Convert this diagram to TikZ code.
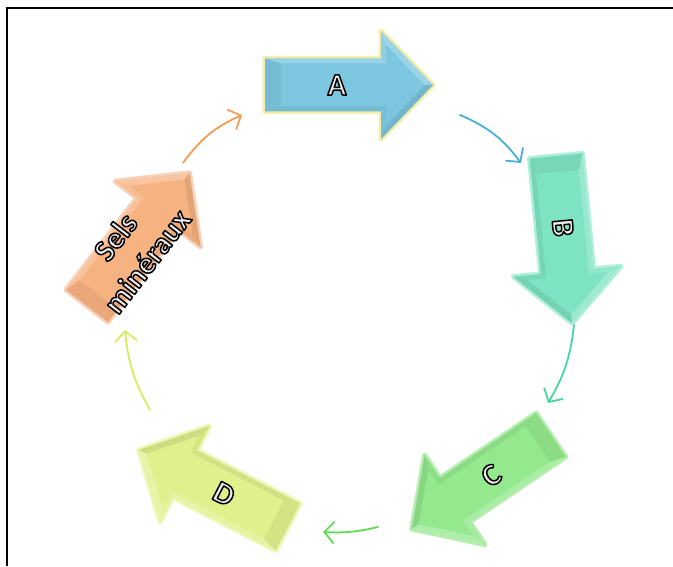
\documentclass[tikz,border=0pt]{standalone}
\usepackage{fontspec}
\setmainfont{Carlito}
\usetikzlibrary{arrows.meta}

\definecolor{fillA}{HTML}{7CC6E0}
\definecolor{glowA}{HTML}{F4EDA8}
\definecolor{fillB}{HTML}{7EE3C2}
\definecolor{glowB}{HTML}{AEEFD9}
\definecolor{fillC}{HTML}{94E88E}
\definecolor{glowC}{HTML}{B6EEB0}
\definecolor{fillD}{HTML}{E0F08C}
\definecolor{glowD}{HTML}{EEF6B4}
\definecolor{fillS}{HTML}{F7B281}
\definecolor{glowS}{HTML}{F6D2BA}
\definecolor{linkS}{HTML}{F49B56}
\definecolor{linkA}{HTML}{4AAFD3}
\definecolor{linkB}{HTML}{45D6A0}
\definecolor{linkC}{HTML}{5FDC55}
\definecolor{linkD}{HTML}{D3EE5B}

% outlined letters: grey fill, black stroke
\newcommand\outlined[1]{\special{pdf:literal direct 0 0 0 RG 1.5 w 1 j 2 Tr}#1\special{pdf:literal direct 0 Tr}}

\tikzset{
  link/.style={line width=1.8pt, line cap=round, -{Straight Barb[length=10pt,width=22pt]}},
  stepname/.style={text=gray!15, align=center, font=\bfseries\fontsize{31}{40}\selectfont}
}

% #1 name, #2 tail, #3 angle, #4 text angle, #5 fill, #6 glow, #7 text
\newcommand\cyclearrow[7]{%
  \begin{scope}[shift={#2}, rotate=#3]
    \draw[line width=5pt, draw=#6, line join=round] (0,-26.5) -- (116,-26.5) -- (116,-54) -- (168,0) -- (116,54) -- (116,26.5) -- (0,26.5) -- cycle;
    \fill[#5] (0,-26.5) -- (116,-26.5) -- (116,-54) -- (168,0) -- (116,54) -- (116,26.5) -- (0,26.5) -- cycle;
    \fill[black, opacity=.06] (0,-26.5) -- (116,-26.5) -- (121,-21.5) -- (16,-21.5) -- cycle;
    \fill[black, opacity=.04] (116,-26.5) -- (116,-54) -- (121,-40.1) -- (121,-21.5) -- cycle;
    \fill[black, opacity=.08] (116,-54) -- (168,0) -- (159.7,0) -- (121,-40.1) -- cycle;
    \fill[white, opacity=.25] (168,0) -- (116,54) -- (121,40.1) -- (159.7,0) -- cycle;
    \fill[white, opacity=.15] (116,54) -- (116,26.5) -- (121,21.5) -- (121,40.1) -- cycle;
    \fill[white, opacity=.2] (116,26.5) -- (0,26.5) -- (16,21.5) -- (121,21.5) -- cycle;
    \fill[black, opacity=.05] (0,26.5) -- (0,-26.5) -- (16,-21.5) -- (16,21.5) -- cycle;
    \node[stepname, rotate=#4] (#1) at (72,0) {#7};
  \end{scope}}

\begin{document}
\begin{tikzpicture}[x=1pt,y=1pt]
\useasboundingbox (0,0) rectangle (673,566);
\draw[line width=1.5pt] (7,0) -- (7,558) -- (673,558);

% the five steps
\cyclearrow{sels}{(87,260)}{52.4}{52.4}{fillS}{glowS}{\outlined{Sels}\\\outlined{minéraux}}
\cyclearrow{a}{(265,481)}{0}{0}{fillA}{glowA}{\outlined{A}}
\cyclearrow{b}{(556,410)}{-84.5}{-84.5}{fillB}{glowB}{\outlined{B}}
\cyclearrow{c}{(551,131)}{214}{34}{fillC}{glowC}{\outlined{C}}
\cyclearrow{d}{(288,39)}{152.7}{-27.3}{fillD}{glowD}{\outlined{D}}

% links
\coordinate (s1) at (183,403);
\coordinate (s2) at (242,451);
\coordinate (a1) at (460,451);
\coordinate (a2) at (521,403);
\coordinate (b1) at (574,241);
\coordinate (b2) at (548,163);
\coordinate (c1) at (378,39);
\coordinate (c2) at (323,34);
\coordinate (d1) at (150,156);
\coordinate (d2) at (125,236);
\draw[link, linkS] (s1) to[bend left=15] (s2);
\draw[link, linkA] (a1) to[bend left=15] (a2);
\draw[link, linkB] (b1) to[bend left=12] (b2);
\draw[link, linkC] (c1) to[bend left=8] (c2);
\draw[link, linkD] (d1) to[bend left=12] (d2);
\end{tikzpicture}
\end{document}
